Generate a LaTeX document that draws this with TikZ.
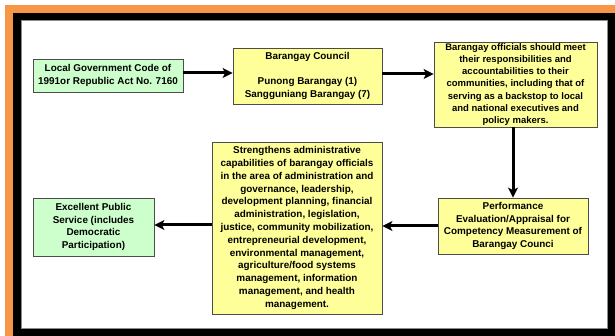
\documentclass[tikz,border=0pt]{standalone}
\usepackage{fontspec}
\setmainfont{Liberation Sans}
\usetikzlibrary{arrows.meta}
\definecolor{frameorange}{RGB}{247,150,70}
\definecolor{boxyellow}{RGB}{255,255,153}
\definecolor{boxgreen}{RGB}{204,255,204}
\begin{document}
\begin{tikzpicture}[x=1pt,y=-1pt,
  box/.style={draw=black!70, line width=0.8pt, align=center, inner sep=0pt,
    font=\fontsize{9.9}{12.4}\selectfont\bfseries},
  ybox/.style={box, fill=boxyellow},
  gbox/.style={box, fill=boxgreen},
  flow/.style={line width=3pt, -{Stealth[length=10pt,width=10pt,inset=2.5pt]}}]
\useasboundingbox (0,0) rectangle (615,336);
% frame
\fill[frameorange] (5,5) rectangle (615,336);
\fill[black] (13,13) rectangle (615,336);
\filldraw[fill=white, draw=black!45, line width=0.6pt] (21,20) rectangle (607,328);

% boxes
\node[gbox, minimum width=150pt, minimum height=33pt] (law) at (108,75.5)
  {Local Government Code of\\1991or Republic Act No. 7160};
\node[ybox, minimum width=149pt, minimum height=56pt] (council) at (307.5,76)
  {Barangay Council\\[12.4pt]Punong Barangay (1)\\Sangguniang Barangay (7)};
\node[ybox, minimum width=163pt, minimum height=85pt, font=\fontsize{9.5}{12.2}\selectfont\bfseries] (duty) at (515.5,84.5)
  {Barangay officials should meet\\their responsibilities and\\accountabilities to their\\communities, including that of\\serving as a backstop to local\\and national executives and\\policy makers.};
\node[ybox, minimum width=150pt, minimum height=56pt] (perf) at (513,226)
  {Performance\\Evaluation/Appraisal for\\Competency Measurement of\\Barangay Counci};
\node[ybox, minimum width=170pt, minimum height=172pt, font=\fontsize{9.9}{12.8}\selectfont\bfseries] (train) at (297,228)
  {Strengthens administrative\\capabilities of barangay officials\\in the area of administration and\\governance, leadership,\\development planning, financial\\administration, legislation,\\justice, community mobilization,\\entrepreneurial development,\\environmental management,\\agriculture/food systems\\management, information\\management, and health\\management.};
\node[gbox, minimum width=121pt, minimum height=58pt] (service) at (93.5,227)
  {Excellent Public\\Service (includes\\Democratic\\Participation)};

% connectors
\draw[flow] ([yshift=2.5pt]law.east) -- ([yshift=2.5pt]law.east -| council.west);
\draw[flow] ([yshift=2pt]council.east) -- ([yshift=2pt]council.east -| duty.west);
\draw[flow] (duty.south -| perf.north) -- (perf.north);
\draw[flow] (perf.west) -- (perf.west -| train.east);
\draw[flow] ([yshift=3pt]train.west) -- ([yshift=3pt]train.west -| service.east);
\end{tikzpicture}
\end{document}
